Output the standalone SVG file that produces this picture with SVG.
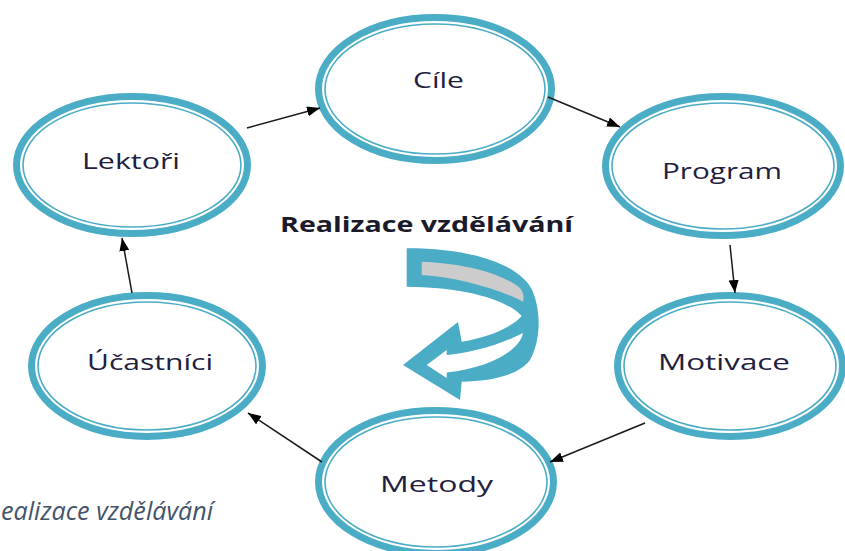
<svg xmlns="http://www.w3.org/2000/svg" width="845" height="551" viewBox="0 0 845 551">
<style>
.outer{fill:#ffffff;stroke:#4bacc6;stroke-width:7}
.inner{fill:none;stroke:#4bacc6;stroke-width:1.6}
.lbl{font-family:"Open Sans","DejaVu Sans",sans-serif;font-size:22px;font-weight:500;fill:#1f2040}
.title{font-family:"Open Sans","DejaVu Sans",sans-serif;font-size:22px;font-weight:bold;fill:#1a1a2a}
.cap{font-family:"Open Sans","DejaVu Sans",sans-serif;font-size:25px;font-style:italic;fill:#44546a}
.conn line{stroke:#1a1a1a;stroke-width:1.5;marker-end:url(#ah)}
</style>
<defs>
<marker id="ah" markerUnits="userSpaceOnUse" markerWidth="14" markerHeight="10" refX="13" refY="5" orient="auto">
<path d="M0,0 L13,5 L0,10 Z" fill="#000"/>
</marker>
</defs>
<rect width="845" height="551" fill="#ffffff"/>

<g id="cile">
<ellipse class="outer" cx="435" cy="89" rx="116.5" ry="71.5"/>
<ellipse class="inner" cx="435" cy="89" rx="110" ry="65"/>
<text class="lbl" x="413" y="88" textLength="51" lengthAdjust="spacingAndGlyphs">Cíle</text>
</g>
<g id="program">
<ellipse class="outer" cx="723" cy="166" rx="117.5" ry="69.5"/>
<ellipse class="inner" cx="723" cy="166" rx="111" ry="63"/>
<text class="lbl" x="662" y="179" textLength="120" lengthAdjust="spacingAndGlyphs">Program</text>
</g>
<g id="motivace">
<ellipse class="outer" cx="730" cy="366" rx="112.5" ry="70.5"/>
<ellipse class="inner" cx="730" cy="366" rx="106" ry="64"/>
<text class="lbl" x="658" y="370" textLength="132" lengthAdjust="spacingAndGlyphs">Motivace</text>
</g>
<g id="metody">
<ellipse class="outer" cx="436" cy="482" rx="117.5" ry="71.5"/>
<ellipse class="inner" cx="436" cy="482" rx="111" ry="65"/>
<text class="lbl" x="380" y="492" textLength="113" lengthAdjust="spacingAndGlyphs">Metody</text>
</g>
<g id="ucastnici">
<ellipse class="outer" cx="147" cy="366" rx="115.5" ry="70.5"/>
<ellipse class="inner" cx="147" cy="366" rx="109" ry="64"/>
<text class="lbl" x="87" y="370" textLength="126" lengthAdjust="spacingAndGlyphs">Účastníci</text>
</g>
<g id="lektori">
<ellipse class="outer" cx="132" cy="165" rx="115.5" ry="68.5"/>
<ellipse class="inner" cx="132" cy="165" rx="109" ry="62"/>
<text class="lbl" x="82" y="169" textLength="98" lengthAdjust="spacingAndGlyphs">Lektoři</text>
</g>

<g id="connectors" class="conn">
<line x1="247" y1="128" x2="320" y2="108"/>
<line x1="548" y1="97" x2="620" y2="127"/>
<line x1="730" y1="245" x2="735" y2="293"/>
<line x1="645" y1="423" x2="550" y2="462"/>
<line x1="322" y1="462" x2="248" y2="413"/>
<line x1="132" y1="293" x2="122" y2="238"/>
</g>

<g id="cycle-arrow">
<path d="M406.7,248.3 C465,248 520,262 533,292 C541,312 541,340 530,360 C518,376 490,381 461.7,381.7 L460,400 L403,365 L458,322 L461.7,341.7 C490,337 512,327 521.7,316 C505,298 460,287 406.7,286.7 Z" fill="#4bacc6"/>
<path d="M421.7,261.7 C460,263 500,272 520,288 C524,293 524,298 523,301.7 C505,292 465,278 421.7,275 Z" fill="#cccccc"/>
<path d="M426.7,365 L446.7,350 L446.7,355 C470,353 500,345 523,333 C520,350 490,368 446.7,372.5 L446.7,378 Z" fill="#ffffff"/>
</g>

<text class="title" x="280" y="232" textLength="293" lengthAdjust="spacingAndGlyphs">Realizace vzdělávání</text>
<text class="cap" x="1" y="520" textLength="212" lengthAdjust="spacingAndGlyphs">ealizace vzdělávání</text>
</svg>
